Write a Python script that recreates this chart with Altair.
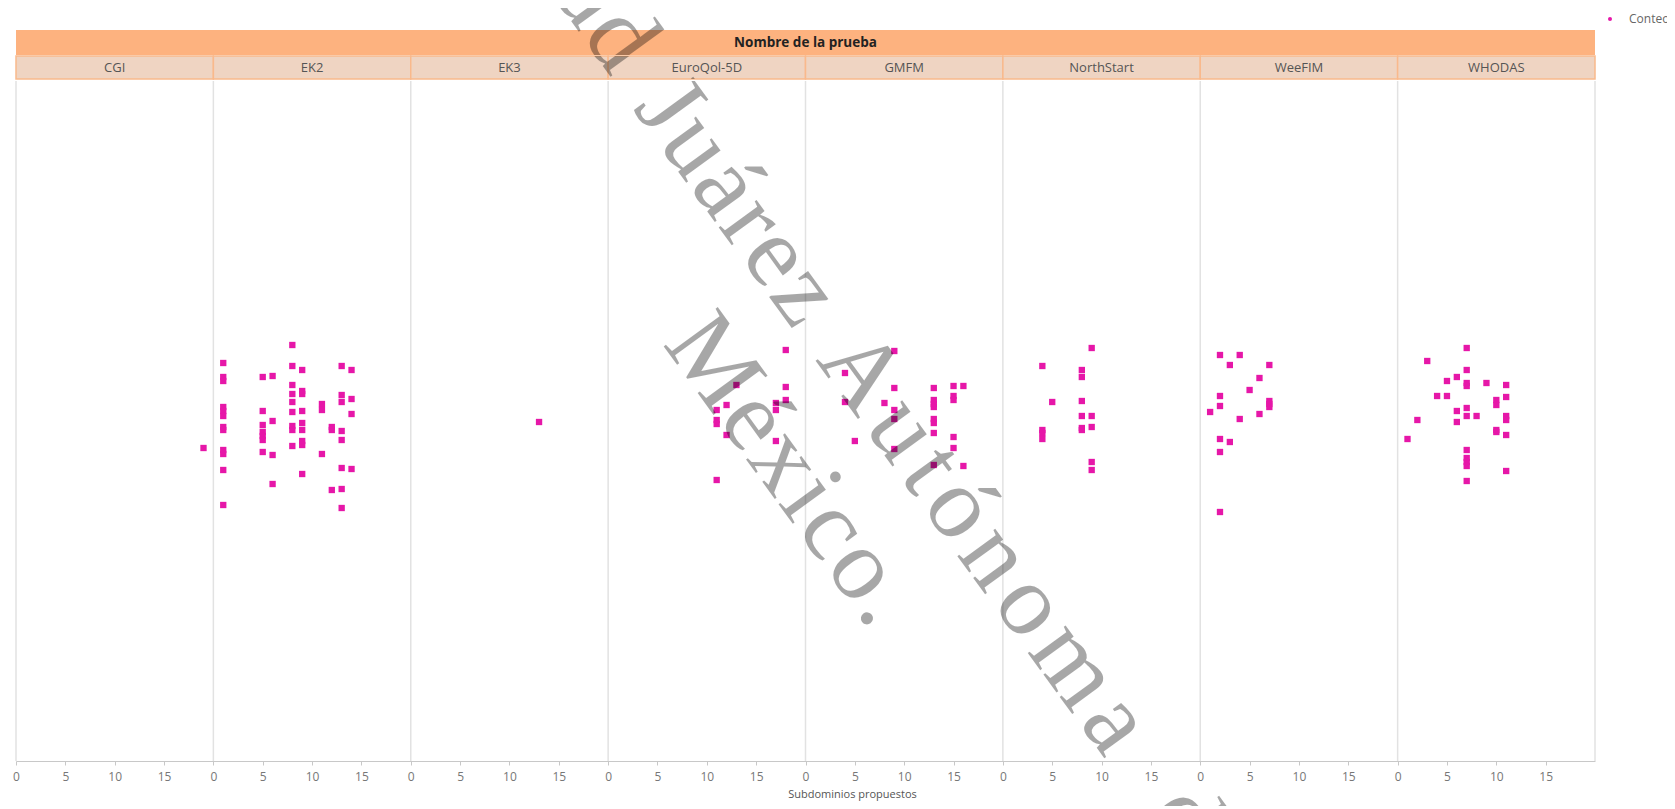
import math
import altair as alt
import pandas as pd

# ---------------- data ----------------
tests = ["CGI", "EK2", "EK3", "EuroQol-5D", "GMFM", "NorthStart", "WeeFIM", "WHODAS"]
series_name = "Conteo de Subdominios propuestos"

# x = subdominios propuestos, j = vertical jitter of each point
cgi_x = [19]
cgi_j = [-2.7]

ek2_x = [1] * 12 + [5] * 7 + [6] * 4 + [8] * 9 + [9] * 9 + [11] * 3 + [12] * 3 + [13] * 8 + [14] * 4
ek2_j = [5.8, 4.4, 4.0, 1.4, 1.0, 0.5, -0.6, -0.9, -2.9, -3.3, -4.9, -8.4,
         4.4, 1.0, -0.4, -1.1, -1.5, -1.9, -3.1,
         4.5, 0.0, -3.4, -6.3,
         7.6, 5.5, 3.6, 2.7, 1.9, 0.9, -0.5, -0.9, -2.5,
         5.1, 3.0, 2.7, 1.0, -0.2, -0.9, -2.0, -2.4, -5.3,
         1.7, 1.1, -3.3,
         -0.6, -0.9, -6.9,
         5.5, 2.6, 1.9, -1.0, -1.9, -4.7, -6.8, -8.7,
         5.1, 2.2, 0.7, -4.8]

ek3_x = [13]
ek3_j = [-0.1]

euro_x = [11] * 4 + [12] * 2 + [13] + [17] * 3 + [18] * 3
euro_j = [1.1, 0.1, -0.3, -5.9,
          1.6, -1.4,
          3.6,
          1.8, 1.1, -2.0,
          7.1, 3.4, 2.1]

gmfm_x = [4] * 2 + [5] + [8] + [9] * 5 + [13] * 8 + [15] * 5 + [16] * 2
gmfm_j = [4.8, 1.9,
          -2.0,
          1.8,
          7.0, 3.3, 1.1, 0.2, -2.8,
          3.3, 2.1, 1.7, 1.4, 0.2, -0.2, -1.2, -4.4,
          3.5, 2.5, 2.1, -1.6, -2.7,
          3.5, -4.5]

north_x = [4] * 4 + [5] + [8] * 6 + [9] * 5
north_j = [5.5, -0.9, -1.2, -1.8,
           1.9,
           5.1, 4.4, 2.0, 0.5, -0.7, -0.9,
           7.3, 0.5, -0.6, -4.1, -4.9]

wee_x = [1] + [2] * 6 + [3] * 2 + [4] * 2 + [5] + [6] * 2 + [7] * 4
wee_j = [0.9,
         6.6, 2.5, 1.5, -1.8, -3.1, -9.1,
         5.6, -2.1,
         6.6, 0.2,
         3.1,
         4.3, 0.7,
         5.6, 2.0, 1.7, 1.4]

who_x = [1, 2, 3, 4] + [5] * 2 + [6] * 3 + [7] * 11 + [8] + [9] + [10] * 4 + [11] * 6
who_j = [-1.8, 0.1, 6.0, 2.5,
         4.0, 2.5,
         4.4, 1.0, -0.1,
         7.3, 5.1, 3.8, 3.5, 1.3, 0.5, -2.9, -3.7, -4.1, -4.5, -6.0,
         0.5,
         3.8,
         2.1, 1.6, -0.9, -1.1,
         3.6, 2.4, 0.5, 0.1, -1.4, -5.0]

values_by_test = {
    "CGI": (cgi_x, cgi_j),
    "EK2": (ek2_x, ek2_j),
    "EK3": (ek3_x, ek3_j),
    "EuroQol-5D": (euro_x, euro_j),
    "GMFM": (gmfm_x, gmfm_j),
    "NorthStart": (north_x, north_j),
    "WeeFIM": (wee_x, wee_j),
    "WHODAS": (who_x, who_j),
}

SPAN = 20          # x extent of each small multiple
J_TOP, J_BOTTOM = 34, -34   # vertical extent of the plotting frame (jitter units)
tick_values = [i * 2.5 for i in range(SPAN * len(tests) * 2 // 5)]

rows = []
for i, t in enumerate(tests):
    xs, js = values_by_test[t]
    for xv, jv in zip(xs, js):
        rows.append({"prueba": t, "idx": i, "subdominios": xv, "jitter": jv, "serie": series_name})
df = pd.DataFrame(rows)

names_df = pd.DataFrame({"prueba": tests, "idx": list(range(len(tests)))})
bounds_df = pd.DataFrame({"idx": list(range(len(tests) + 1)),
                          "top": [J_TOP] * (len(tests) + 1),
                          "bottom": [J_BOTTOM] * (len(tests) + 1)})
title_df = pd.DataFrame({"titulo": ["Nombre de la prueba"], "n": [len(tests)]})
legend_df = pd.DataFrame({"serie": [series_name]})

# ---------------- style ----------------
PINK = "#E617A8"
ORANGE = "#FDB27F"
SALMON = "#EFD4C2"
ORANGE_LINE = "#F9B98C"
FONT = "Open Sans"
W = 1579
H = 680            # plotting frame
AXIS_ROOM = 45     # the axis is drawn inside the view so the watermark can cover it
W_TOP = 1651       # top strip reaches the right edge of the page (holds the legend)
LEFT = 15          # page x of the plot's left edge
TOP_SPACER = 8
TOP_TITLE = 30
TOP_NAMES = 55
TOP_MAIN = 78
PX_PER_J = H / (J_TOP - J_BOTTOM)

# ---------------- watermark (decoration laid over the picture) ----------------
WM_SIZE = 102
WM_ANGLE = 54
WM_LINE1 = "Universidad Juárez Autónoma de Tabasco,"
WM_LINE2 = "México."
CHAR_W = {"U": 722, "n": 500, "i": 278, "v": 500, "e": 444, "r": 333, "s": 389, "d": 500,
          "a": 444, " ": 250, "J": 389, "u": 500, "á": 444, "z": 444, "A": 722, "t": 278,
          "ó": 500, "o": 500, "m": 778, "T": 611, "b": 500, "c": 444, ",": 250, "M": 889,
          "é": 444, "x": 500, ".": 250}


def wm_line(text, anchor_idx, anchor, sp_before, sp_after, word_before, word_after):
    dx, dy = math.cos(math.radians(WM_ANGLE)), math.sin(math.radians(WM_ANGLE))
    offs, cum = [], 0.0
    for k, ch in enumerate(text):
        offs.append(cum)
        before = k < anchor_idx
        cum += (CHAR_W[ch] / 1000 * WM_SIZE + (sp_before if before else sp_after)
                + ((word_before if before else word_after) if ch == " " else 0))
    base = offs[anchor_idx]
    out = []
    for k, ch in enumerate(text):
        if ch != " ":
            s = offs[k] - base
            out.append((ch, anchor[0] + s * dx, anchor[1] + s * dy))
    return out


WM_CHARS = (wm_line(WM_LINE1, WM_LINE1.index("A"), (814, 357), 3, 9, 4, 25)
            + wm_line(WM_LINE2, 0, (661, 341), 3, 3, 0, 0))


def watermark(top):
    wdf = pd.DataFrame({"letra": [c for c, _, _ in WM_CHARS],
                        "px": [x - LEFT for _, x, _ in WM_CHARS],
                        "py": [y - top for _, _, y in WM_CHARS]})
    return (
        alt.Chart(wdf)
        .mark_text(align="left", baseline="alphabetic", angle=WM_ANGLE,
                   font="Liberation Serif", fontSize=WM_SIZE,
                   fill="#000000", opacity=0.34, clip=True)
        .encode(text="letra:N",
                x=alt.X("px:Q", scale=None, axis=None),
                y=alt.Y("py:Q", scale=None, axis=None))
    )


x_scale = alt.Scale(domain=[0, SPAN * len(tests)], nice=False, zero=False)
y_scale = alt.Scale(domain=[J_BOTTOM - AXIS_ROOM / PX_PER_J, J_TOP], nice=False, zero=False)
color_scale = alt.Scale(domain=[series_name], range=[PINK])

# ---------------- main panel ----------------
separators = (
    alt.Chart(bounds_df)
    .transform_calculate(b=f"datum.idx * {SPAN}")
    .mark_rule(color="#e2e2e2", strokeWidth=1.5)
    .encode(x=alt.X("b:Q", scale=x_scale, title="Subdominios propuestos"),
            y=alt.Y("top:Q", scale=y_scale, axis=None),
            y2="bottom:Q")
)

points = (
    alt.Chart(df)
    .transform_calculate(pos=f"datum.idx * {SPAN} + datum.subdominios")
    .mark_point(shape="square", filled=True, size=40, opacity=1)
    .encode(
        x=alt.X("pos:Q", scale=x_scale, title="Subdominios propuestos",
                axis=alt.Axis(values=tick_values, offset=-AXIS_ROOM,
                              labelExpr=f"datum.value % 5 == 0 ? format(datum.value % {SPAN}, 'd') : ''",
                              grid=False, domainColor="#c8c8c8", tickColor="#c8c8c8",
                              tickSize=4, labelColor="#777777", labelFont=FONT,
                              labelFontSize=12, labelPadding=6, labelFlush=False,
                              labelOverlap=False, titleColor="#555555", titleFont=FONT,
                              titleFontSize=11, titleFontWeight="normal", titlePadding=6,
                              titleX=836, titleAlign="center")),
        y=alt.Y("jitter:Q", scale=y_scale, axis=None),
        color=alt.Color("serie:N", scale=color_scale, legend=None),
        tooltip=["prueba:N", "subdominios:Q"],
    )
)

main = (alt.layer(separators, points, watermark(TOP_MAIN))
        .properties(width=W, height=H + AXIS_ROOM))

# ---------------- header rows ----------------
name_cells = (
    alt.Chart(names_df)
    .transform_calculate(start=f"datum.idx * {SPAN}", end=f"datum.idx * {SPAN} + {SPAN}")
    .mark_rect(fill=SALMON, stroke=ORANGE_LINE, strokeWidth=1.5)
    .encode(x=alt.X("start:Q", scale=x_scale, axis=None), x2="end:Q")
)
name_text = (
    alt.Chart(names_df)
    .transform_calculate(mid=f"datum.idx * {SPAN} + {SPAN / 2}")
    .mark_text(font=FONT, fontSize=13, color="#555555", baseline="middle")
    .encode(x=alt.X("mid:Q", scale=x_scale, axis=None), text="prueba:N")
)
names_row = alt.layer(name_cells, name_text, watermark(TOP_NAMES)).properties(width=W, height=23)

title_cell = (
    alt.Chart(title_df)
    .transform_calculate(start="0", end=f"datum.n * {SPAN}")
    .mark_rect(fill=ORANGE)
    .encode(x=alt.X("start:Q", scale=x_scale, axis=None), x2="end:Q")
)
title_text = (
    alt.Chart(title_df)
    .transform_calculate(mid=f"datum.n * {SPAN} / 2")
    .mark_text(font=FONT, fontSize=13.5, fontWeight="bold", color="#222222", baseline="middle")
    .encode(x=alt.X("mid:Q", scale=x_scale, axis=None), text="titulo:N")
)
title_row = alt.layer(title_cell, title_text, watermark(TOP_TITLE)).properties(width=W, height=25)

# top strip: legend (cut by the page edge, as in the reference) + watermark
legend_dot = (
    alt.Chart(legend_df)
    .mark_point(shape="circle", filled=True, size=16, opacity=1, clip=True)
    .encode(color=alt.Color("serie:N", scale=color_scale, legend=None),
            x=alt.value(1594), y=alt.value(11))
)
legend_label = (
    alt.Chart(legend_df)
    .mark_text(align="left", baseline="middle", font=FONT, fontSize=12,
               color="#666666", clip=True)
    .encode(text="serie:N", x=alt.value(1613), y=alt.value(11))
)
spacer = alt.layer(legend_dot, legend_label, watermark(TOP_SPACER)).properties(width=W_TOP, height=22)

chart = (
    alt.vconcat(spacer, title_row, names_row, main, spacing=0,
                padding={"left": 4, "top": 0, "right": 0, "bottom": 0})
    .configure_view(stroke=None)
)

chart.save("out.html", embed_options={"renderer": "svg", "actions": False})
